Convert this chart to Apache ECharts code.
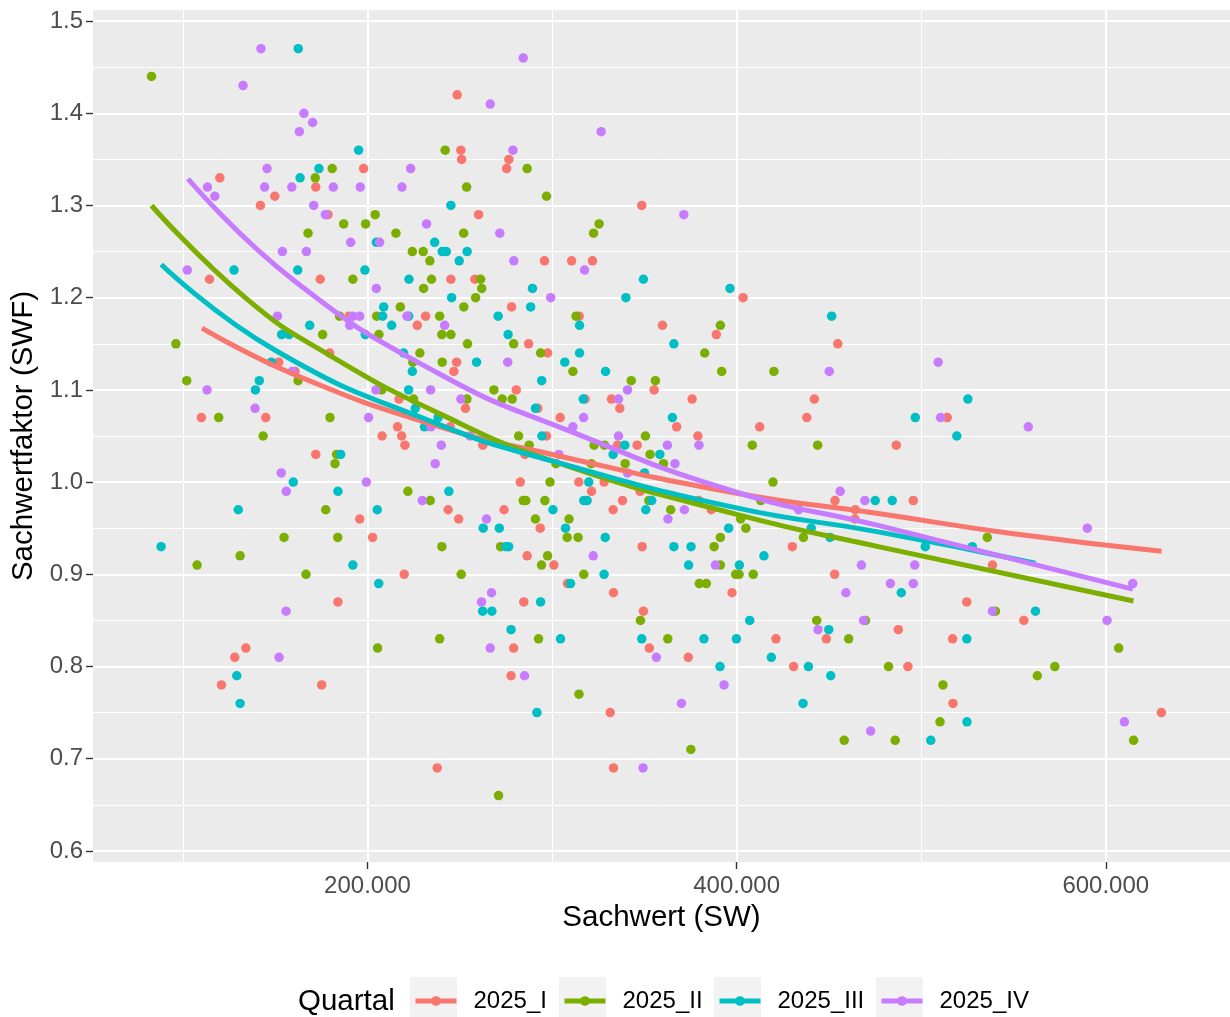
<!DOCTYPE html>
<html>
<head>
<meta charset="utf-8">
<title>Sachwertfaktor nach Sachwert</title>
<script src="https://cdn.jsdelivr.net/npm/echarts@6/dist/echarts.min.js"></script>
<style>
  html, body { margin: 0; padding: 0; background: #ffffff; }
  #chart { width: 1230px; height: 1017px; }
</style>
</head>
<body>
<div id="chart"></div>
<script>
// Quarters and their colours
const quarters = ['2025_I', '2025_II', '2025_III', '2025_IV'];
const quarterColors = ['#F8766D', '#7CAE00', '#00BFC4', '#C77CFF'];

// Tick values
const xTicks = [200000, 400000, 600000];
const yTicks = [0.6, 0.7, 0.8, 0.9, 1.0, 1.1, 1.2, 1.3, 1.4, 1.5];

// Sales: [Sachwert, Sachwertfaktor] per quarter
const pointsI = [
  [248600,1.42],[250600,1.36],[251000,1.35],[197900,1.34],[120000,1.33],[172000,1.32],[149800,1.31],[142000,1.30],
  [178600,1.29],[260200,1.29],[114400,1.22],[174400,1.22],[245200,1.22],[258200,1.22],[276600,1.35],[275400,1.34],
  [348600,1.30],[295900,1.24],[310600,1.24],[321900,1.24],[403500,1.20],[514100,1.07],[486500,1.04],[495700,0.98],
  [538600,0.91],[524700,0.87],[555600,0.85],[487600,0.84],[517000,0.83],[492800,0.80],[517200,0.76],[630100,0.75],
  [184000,0.87],[134100,0.82],[128100,0.81],[120900,0.78],[175200,0.78],[237800,0.69],[284700,0.87],[333300,0.88],
  [397500,0.88],[349500,0.86],[421300,0.83],[448600,0.83],[279200,0.82],[352700,0.82],[373800,0.81],[430900,0.80],
  [277800,0.79],[331500,0.75],[333300,0.69],[190000,1.18],[227000,1.17],[231500,1.18],[179500,1.14],[151900,1.13],
  [248300,1.13],[160700,1.12],[246800,1.12],[217100,1.09],[253100,1.08],[110000,1.07],[144900,1.07],[216300,1.06],
  [244800,1.06],[207900,1.05],[218500,1.05],[220300,1.04],[262500,1.04],[172000,1.03],[243700,0.97],[195800,0.96],
  [249400,0.96],[202800,0.94],[219900,0.90],[278100,1.19],[314700,1.18],[359800,1.17],[389000,1.16],[287300,1.15],
  [454800,1.15],[297600,1.14],[280600,1.10],[355300,1.10],[317900,1.09],[332200,1.09],[375900,1.09],[442100,1.09],
  [292300,1.08],[336700,1.08],[304400,1.07],[438000,1.07],[367500,1.06],[412500,1.06],[297000,1.05],[379000,1.05],
  [335500,1.04],[346100,1.04],[285300,1.03],[282800,1.00],[314500,1.00],[328200,1.00],[321400,0.99],[347700,0.99],
  [338200,0.98],[379500,0.98],[453300,0.98],[274000,0.97],[333100,0.97],[386300,0.97],[464300,0.97],[464100,0.96],
  [293600,0.95],[348800,0.93],[430200,0.93],[286500,0.92],[301000,0.91],[453100,0.90],[308400,0.89]
];
const pointsII = [
  [83000,1.44],[242100,1.36],[180900,1.34],[171700,1.33],[253700,1.32],[204200,1.29],[187100,1.28],[199000,1.28],
  [167800,1.27],[215400,1.27],[252100,1.27],[224300,1.25],[230200,1.25],[233800,1.24],[192100,1.22],[234700,1.22],
  [261300,1.22],[230400,1.21],[261900,1.21],[258600,1.20],[286500,1.34],[297000,1.31],[325500,1.28],[322500,1.27],
  [535800,0.94],[540200,0.86],[469800,0.85],[607000,0.82],[482300,0.80],[572400,0.80],[562900,0.79],[511800,0.78],
  [510200,0.74],[485900,0.72],[615100,0.72],[205500,0.82],[239100,0.83],[347900,0.85],[443400,0.85],[292700,0.83],
  [362700,0.83],[460700,0.83],[314600,0.77],[458300,0.72],[375200,0.71],[271000,0.66],[217800,1.19],[252200,1.19],
  [184900,1.18],[205000,1.18],[239100,1.18],[175700,1.16],[206200,1.16],[240300,1.16],[245200,1.16],[96200,1.15],
  [254200,1.15],[228400,1.14],[224600,1.13],[240500,1.13],[102100,1.11],[162400,1.11],[207700,1.10],[225000,1.09],
  [253900,1.09],[119400,1.07],[179700,1.07],[143500,1.05],[183300,1.03],[182400,1.02],[221900,0.99],[234000,0.98],
  [177400,0.97],[154800,0.94],[183900,0.94],[240300,0.93],[131000,0.92],[107700,0.91],[166700,0.90],[250800,0.90],
  [313000,1.18],[391200,1.17],[279200,1.15],[293800,1.14],[382700,1.14],[311300,1.12],[391900,1.12],[420200,1.12],
  [342900,1.11],[356000,1.11],[268500,1.10],[273000,1.09],[278400,1.09],[281900,1.05],[350600,1.05],[287600,1.04],
  [322800,1.04],[328400,1.04],[408500,1.04],[443900,1.04],[353100,1.03],[302100,1.02],[321200,1.02],[339600,1.02],
  [360400,1.02],[298900,1.00],[419700,1.00],[284400,0.98],[285800,0.98],[296100,0.98],[352400,0.98],[413100,0.98],
  [364300,0.97],[291000,0.96],[309200,0.96],[402200,0.96],[405000,0.95],[308200,0.94],[314100,0.94],[391200,0.94],
  [436200,0.94],[272100,0.93],[387800,0.93],[297600,0.92],[294300,0.91],[391200,0.91],[317200,0.90],[399500,0.90],
  [401300,0.90],[409000,0.90],[379800,0.89],[383600,0.89]
];
const pointsIII = [
  [162500,1.47],[195200,1.36],[173700,1.34],[163500,1.33],[245200,1.30],[204800,1.26],[236400,1.26],[240500,1.25],
  [242700,1.25],[254000,1.25],[249700,1.24],[127700,1.23],[162200,1.23],[198600,1.23],[222500,1.22],[245600,1.20],
  [289400,1.21],[349500,1.22],[396400,1.21],[340000,1.20],[525300,1.09],[496800,1.07],[519300,1.05],[475100,0.98],
  [484300,0.98],[527700,0.93],[502200,0.93],[489200,0.88],[561900,0.86],[524700,0.83],[524800,0.74],[505200,0.72],
  [129200,0.79],[131000,0.76],[293800,0.87],[262400,0.86],[267400,0.86],[407100,0.85],[277800,0.84],[449900,0.84],
  [304600,0.83],[348600,0.83],[382300,0.83],[399900,0.83],[418800,0.81],[391000,0.80],[438900,0.80],[451000,0.79],
  [436000,0.76],[291800,0.75],[208800,1.19],[208200,1.18],[222300,1.18],[168700,1.17],[213100,1.17],[153500,1.16],
  [157500,1.16],[198800,1.16],[219600,1.14],[147900,1.13],[259100,1.13],[224300,1.12],[141400,1.11],[139300,1.10],
  [222300,1.10],[225900,1.08],[238300,1.07],[230900,1.06],[185500,1.03],[159800,1.00],[184000,0.99],[244100,0.99],
  [130000,0.97],[205300,0.97],[88200,0.93],[192100,0.91],[206100,0.89],[288400,1.19],[270800,1.18],[451500,1.18],
  [314900,1.17],[276200,1.16],[366000,1.15],[314900,1.14],[306900,1.13],[329000,1.12],[294400,1.11],[316900,1.09],
  [291000,1.08],[365200,1.07],[294500,1.05],[339400,1.04],[333100,1.03],[358400,1.03],[350100,1.01],[319900,1.00],
  [317200,0.98],[319000,0.98],[354000,0.98],[300500,0.97],[350800,0.97],[262700,0.95],[271400,0.95],[307300,0.95],
  [395700,0.95],[440400,0.95],[328800,0.94],[450600,0.94],[275000,0.93],[276500,0.93],[366000,0.93],[375300,0.93],
  [414800,0.92],[374000,0.91],[401500,0.91],[328200,0.90],[310000,0.89]
];
const pointsIV = [
  [142300,1.47],[132600,1.43],[165600,1.40],[170300,1.39],[163100,1.38],[145600,1.34],[223400,1.34],[113300,1.32],
  [144300,1.32],[159000,1.32],[181500,1.32],[196100,1.32],[218700,1.32],[117300,1.31],[170900,1.30],[177200,1.29],
  [232000,1.28],[190900,1.26],[206600,1.26],[153900,1.25],[166900,1.25],[102400,1.23],[204800,1.21],[284400,1.46],
  [266500,1.41],[326600,1.38],[278800,1.36],[371400,1.29],[271700,1.27],[279300,1.24],[317600,1.23],[299300,1.20],
  [509200,1.13],[510500,1.07],[558000,1.06],[469500,0.98],[590000,0.95],[467600,0.91],[496500,0.91],[483300,0.89],
  [495700,0.89],[614600,0.89],[538600,0.86],[468800,0.85],[600700,0.85],[610100,0.74],[472600,0.73],[155900,0.86],
  [152100,0.81],[267200,0.88],[261800,0.87],[459200,0.88],[444100,0.84],[266500,0.82],[356500,0.81],[285100,0.79],
  [393200,0.78],[370100,0.76],[349300,0.69],[151200,1.18],[192100,1.18],[195800,1.18],[221400,1.18],[190400,1.17],
  [241800,1.17],[159300,1.12],[113100,1.10],[204600,1.10],[234200,1.10],[250600,1.09],[139100,1.08],[200600,1.07],
  [234400,1.06],[255600,1.05],[240000,1.04],[236700,1.02],[153300,1.01],[199400,1.00],[156000,0.99],[229700,0.98],
  [276000,1.13],[450200,1.12],[340900,1.10],[336000,1.09],[317100,1.07],[311300,1.06],[336000,1.05],[362500,1.04],
  [379600,1.04],[303700,1.03],[366600,1.02],[340900,1.01],[456100,0.99],[371700,0.97],[433600,0.97],[264500,0.96],
  [362800,0.96],[322300,0.92],[388500,0.91]
];

// Trend curves per quarter: [Sachwert, fitted Sachwertfaktor]
const trendI = [[110400,1.167],[160000,1.117],[239300,1.060],[300000,1.030],[400000,0.988],[476700,0.966],[550000,0.944],[630200,0.925]];
const trendII = [[83000,1.300],[134400,1.199],[180000,1.137],[239300,1.074],[300000,1.023],[400000,0.965],[476700,0.930],[615000,0.871]];
const trendIII = [[88300,1.236],[150000,1.143],[239300,1.062],[300000,1.023],[400000,0.972],[476700,0.946],[561900,0.912]];
const trendIV = [[102800,1.329],[160000,1.219],[239300,1.117],[311400,1.054],[400000,0.989],[476700,0.953],[614600,0.884]];

const pointSets = [pointsI, pointsII, pointsIII, pointsIV];
const trendSets = [trendI, trendII, trendIII, trendIV];

const FONT = "'Liberation Sans', Arial, Helvetica, sans-serif";

function thousands(v) {
  return String(Math.round(v)).replace(/\B(?=(\d{3})+(?!\d))/g, '.');
}

const chart = echarts.init(document.getElementById('chart'), null, { renderer: 'canvas' });

// Line series first so each legend entry shows a line with a dot
const lineSeries = quarters.map((q, i) => ({
  name: q,
  type: 'line',
  data: trendSets[i],
  smooth: true,
  showSymbol: false,
  symbol: 'circle',
  symbolSize: 9,
  silent: true,
  z: 3,
  color: quarterColors[i],
  lineStyle: { width: 5, color: quarterColors[i] },
  itemStyle: { color: quarterColors[i] }
}));
const scatterSeries = quarters.map((q, i) => ({
  name: q,
  type: 'scatter',
  data: pointSets[i],
  symbol: 'circle',
  symbolSize: 9.5,
  z: 2,
  color: quarterColors[i],
  itemStyle: { color: quarterColors[i], opacity: 1 }
}));

const keyLefts = [410, 559, 714, 876];

const option = {
  animation: false,
  backgroundColor: '#ffffff',
  textStyle: { fontFamily: FONT },
  grid: {
    left: 93, top: 10, right: 0, bottom: 155,
    show: true, backgroundColor: '#EBEBEB', borderWidth: 0,
    containLabel: false, outerBoundsMode: 'none'
  },
  xAxis: {
    type: 'value',
    min: 51300, max: 667300, splitNumber: 3,
    name: 'Sachwert (SW)', nameLocation: 'middle', nameGap: 40,
    nameTextStyle: { fontSize: 29.5, color: '#000000', fontFamily: FONT },
    axisLine: { show: false },
    axisTick: { show: true, length: 7, customValues: xTicks, lineStyle: { color: '#333333', width: 1.4 } },
    axisLabel: { customValues: xTicks, formatter: thousands, fontSize: 24, color: '#4D4D4D', margin: 12, fontFamily: FONT },
    splitLine: { show: true, lineStyle: { color: '#ffffff', width: 2 } },
    minorTick: { show: false, splitNumber: 2 },
    minorSplitLine: { show: true, lineStyle: { color: '#ffffff', width: 1 } }
  },
  yAxis: {
    type: 'value',
    min: 0.588, max: 1.512, splitNumber: 9,
    name: 'Sachwertfaktor (SWF)', nameLocation: 'middle', nameRotate: 90, nameGap: 52,
    nameTextStyle: { fontSize: 29.5, color: '#000000', fontFamily: FONT },
    axisLine: { show: false },
    axisTick: { show: true, length: 7, customValues: yTicks, lineStyle: { color: '#333333', width: 1.4 } },
    axisLabel: { customValues: yTicks, formatter: v => v.toFixed(1), fontSize: 24, color: '#4D4D4D', margin: 10, fontFamily: FONT },
    splitLine: { show: true, lineStyle: { color: '#ffffff', width: 2 } },
    minorTick: { show: false, splitNumber: 2 },
    minorSplitLine: { show: true, lineStyle: { color: '#ffffff', width: 1 } }
  },
  legend: quarters.map((q, i) => ({
    data: [q],
    left: keyLefts[i] + 3,
    top: 989,
    padding: 0,
    itemWidth: 41,
    itemHeight: 12,
    selectedMode: false,
    lineStyle: { width: 5 },
    textStyle: { fontSize: 24, color: '#000000', fontFamily: FONT, padding: [0, 0, 0, 12] }
  })),
  graphic: [
    {
      type: 'text', x: 298, y: 1002, z: 1,
      style: { text: 'Quartal', fontSize: 29.5, fill: '#000000', fontFamily: FONT, verticalAlign: 'middle' }
    }
  ].concat(keyLefts.map(l => ({
    type: 'rect', x: l, y: 977, z: 0,
    shape: { width: 47, height: 46 },
    style: { fill: '#F2F2F2' }
  }))),
  series: lineSeries.concat(scatterSeries)
};

chart.setOption(option);
</script>
</body>
</html>
